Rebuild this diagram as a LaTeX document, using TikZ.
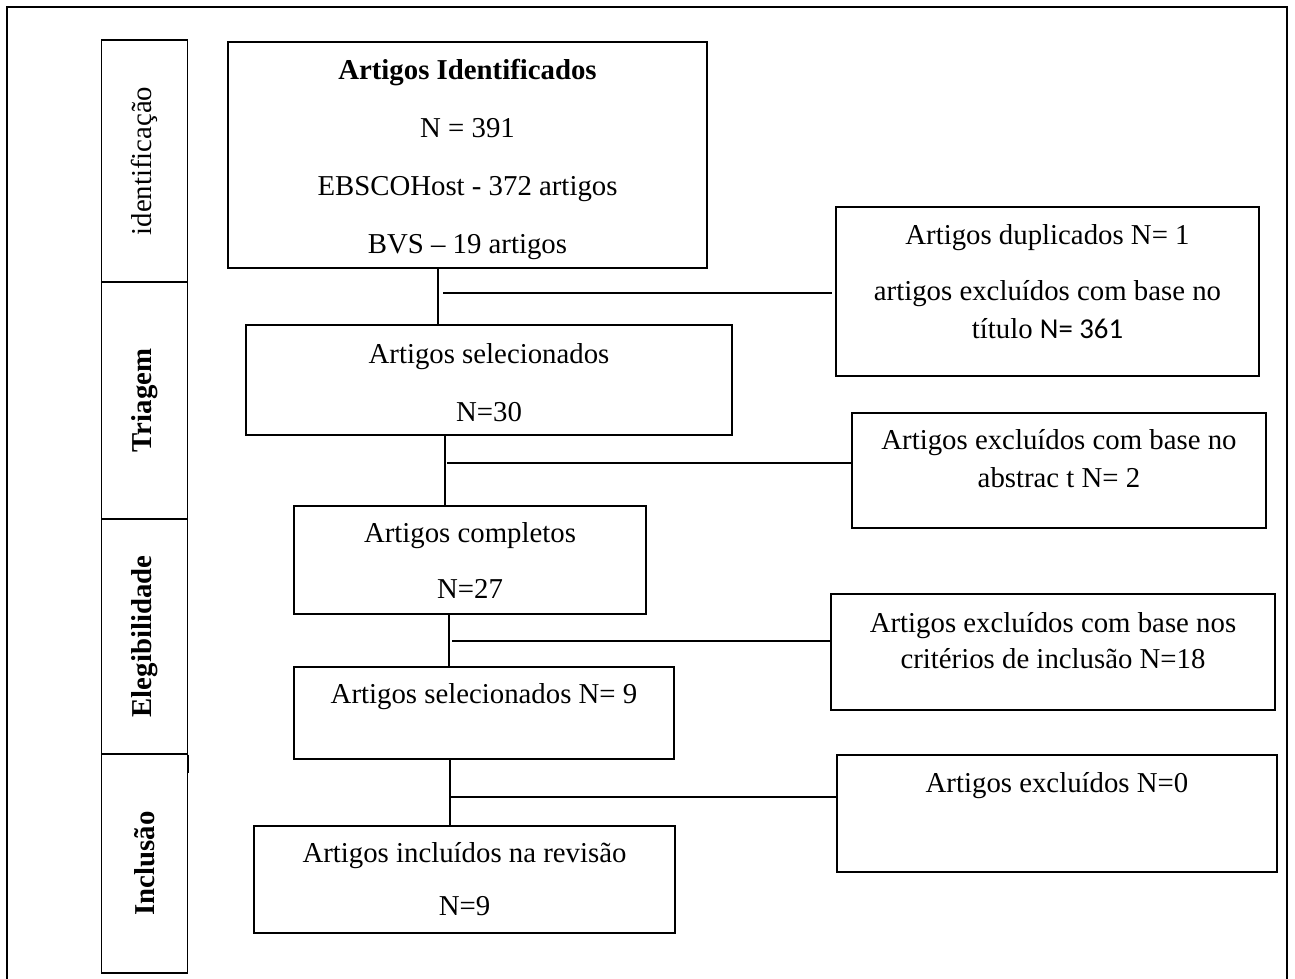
\documentclass[tikz,border=0pt]{standalone}
\usepackage{fontspec}
\setmainfont{Liberation Serif}
\newfontfamily\calibri{Carlito}
\usepackage{tikz}
\usetikzlibrary{positioning, calc}
\tikzset{
    stage/.style={rectangle, draw, line width=0.6pt, rotate=90, minimum height=43pt, inner sep=0pt, font=\fontsize{14.4}{18}\selectfont},
    box/.style={rectangle, draw, line width=0.6pt, inner sep=0pt},
    boxtext/.style={anchor=north, align=center, inner sep=0pt, font=\fontsize{14.4}{18}\selectfont},
    conn/.style={draw, line width=1.1pt}
}

\begin{document}
\begin{tikzpicture}[x=0.5pt, y=-0.5pt]
    % Canvas
    \fill[white] (0,0) rectangle (1295,979);
    \useasboundingbox (0,0) rectangle (1295,979);

    % Frame, open at the bottom
    \draw[line width=1.2pt] (7,979) -- (7,7) -- (1287,7) -- (1287,979);

    % Stage column
    \node[stage, minimum width=121pt] (sid) at (144.7,161) {identificação};
    \node[stage, minimum width=118.5pt, font=\fontsize{14.4}{18}\selectfont\bfseries] (stri) at (144.7,400.5) {Triagem};
    \node[stage, minimum width=117.5pt, font=\fontsize{14.4}{18}\selectfont\bfseries] (sele) at (144.7,636.5) {Elegibilidade};
    \node[stage, minimum width=109.5pt, font=\fontsize{14.4}{18}\selectfont\bfseries] (sinc) at (144.7,863.5) {Inclusão};
    \draw[line width=0.6pt] (sele.south west) -- ++(0,18);

    % Main flow
    \node[box, minimum width=239.5pt, minimum height=113pt] (ident) at (467.5,155) {};
    \node[boxtext] (identtxt) at (467.5,59) {\textbf{Artigos Identificados}\\[11pt] N = 391\\[11pt] EBSCOHost - 372 artigos\\[11pt] BVS -- 19 artigos};

    \node[box, minimum width=243pt, minimum height=55pt] (sel) at (489,380) {};
    \node[boxtext] (seltxt) at (489,343) {Artigos selecionados\\[11pt] N=30};

    \node[box, minimum width=176pt, minimum height=54pt] (comp) at (470,560) {};
    \node[boxtext] (comptxt) at (470,522) {Artigos completos\\[10pt] N=27};

    \node[box, minimum width=190pt, minimum height=46pt] (selnove) at (484,713) {};
    \node[boxtext] (selnovetxt) at (484,683) {Artigos selecionados N= 9};

    \node[box, minimum width=210.5pt, minimum height=53.5pt] (incl) at (464.5,879.5) {};
    \node[boxtext] (incltxt) at (464.5,842) {Artigos incluídos na revisão\\[8.5pt] N=9};

    % Exclusions
    \node[box, minimum width=211.5pt, minimum height=84.5pt] (dup) at (1047.5,291.5) {};
    \node[boxtext] (duptxt) at (1047.5,224) {Artigos duplicados N= 1\\[10pt] artigos excluídos com base no\\[1pt] título {\calibri N= 361}};

    \node[box, minimum width=207pt, minimum height=57.5pt] (abst) at (1059,470.5) {};
    \node[boxtext] (absttxt) at (1059,429) {Artigos excluídos com base no\\[1pt] abstrac t N= 2};

    \node[box, minimum width=222pt, minimum height=58pt] (crit) at (1053,652) {};
    \node[boxtext] (crittxt) at (1053,612) {Artigos excluídos com base nos\\ critérios de inclusão N=18};

    \node[box, minimum width=220pt, minimum height=58.5pt] (excl) at (1057,813.5) {};
    \node[boxtext] (excltxt) at (1057,772) {Artigos excluídos N=0};

    % Connectors
    \coordinate (v1) at (438,293);
    \coordinate (v2) at (445,463);
    \coordinate (v3) at (449,641);
    \coordinate (v4) at (450,797);

    \draw[conn] (ident.south -| v1) -- (sel.north -| v1);
    \draw[conn] ($(v1)+(5,0)$) -- ($(v1 -| dup.west)+(-3,0)$);

    \draw[conn] (sel.south -| v2) -- (comp.north -| v2);
    \draw[conn] ($(v2)+(2,0)$) -- (v2 -| abst.west);

    \draw[conn] (comp.south -| v3) -- (selnove.north -| v3);
    \draw[conn] ($(v3)+(3,0)$) -- (v3 -| crit.west);

    \draw[conn] (selnove.south -| v4) -- (incl.north -| v4);
    \draw[conn] ($(v4)+(1,0)$) -- (v4 -| excl.west);

\end{tikzpicture}
\end{document}
